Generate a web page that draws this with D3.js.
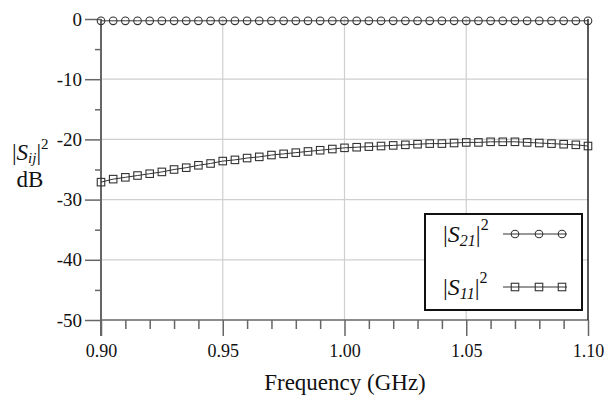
<!DOCTYPE html>
<html>
<head>
<meta charset="utf-8">
<script src="https://cdn.jsdelivr.net/npm/d3@7"></script>
<style>
  html, body { margin: 0; padding: 0; background: #fff; }
</style>
</head>
<body>
<svg id="chart" width="604" height="398"></svg>
<script>
// Frequency sweep (GHz)
const freqGHz = [0.900,0.905,0.910,0.915,0.920,0.925,0.930,0.935,0.940,0.945,
                 0.950,0.955,0.960,0.965,0.970,0.975,0.980,0.985,0.990,0.995,
                 1.000,1.005,1.010,1.015,1.020,1.025,1.030,1.035,1.040,1.045,
                 1.050,1.055,1.060,1.065,1.070,1.075,1.080,1.085,1.090,1.095,1.100];
// |S21|^2 in dB (transmission)
const s21dB = [-0.30,-0.30,-0.30,-0.30,-0.30,-0.30,-0.30,-0.30,-0.30,-0.30,
               -0.30,-0.30,-0.30,-0.30,-0.30,-0.30,-0.30,-0.30,-0.30,-0.30,
               -0.30,-0.30,-0.30,-0.30,-0.30,-0.30,-0.30,-0.30,-0.30,-0.30,
               -0.30,-0.30,-0.30,-0.30,-0.30,-0.30,-0.30,-0.30,-0.30,-0.30,-0.30];
// |S11|^2 in dB (reflection)
const s11dB = [-27.1,-26.6,-26.3,-26.0,-25.7,-25.4,-25.0,-24.7,-24.3,-24.0,
               -23.6,-23.4,-23.1,-22.9,-22.6,-22.4,-22.2,-22.0,-21.8,-21.6,
               -21.4,-21.3,-21.2,-21.1,-21.0,-20.9,-20.8,-20.7,-20.7,-20.6,
               -20.5,-20.5,-20.4,-20.4,-20.4,-20.5,-20.6,-20.7,-20.8,-20.9,-21.1];
// Axis ticks
const xMajorTicks = [0.90, 0.95, 1.00, 1.05, 1.10];
const xTickLabels = ["0.90", "0.95", "1.00", "1.05", "1.10"];
const yMajorTicks = [0, -10, -20, -30, -40, -50];
const yTickLabels = ["0", "-10", "-20", "-30", "-40", "-50"];

const FONT = '"Liberation Serif"';
const svg = d3.select("#chart");
const x = d3.scaleLinear().domain([0.90, 1.10]).range([101, 588]);
const y = d3.scaleLinear().domain([-50, 0]).range([320, 19]);
const axisCol = "#666";
const gridCol = "#cfcfcf";
const ink = "#333";

// Grid
const grid = svg.append("g");
grid.selectAll("line.h").data(yMajorTicks.filter(v => v > -50 && v < 0)).join("line")
  .attr("x1", x(0.90)).attr("x2", x(1.10))
  .attr("y1", d => y(d)).attr("y2", d => y(d))
  .attr("stroke", gridCol).attr("stroke-width", 1.2);
grid.selectAll("line.v").data(xMajorTicks.filter(v => v > 0.9 && v < 1.1)).join("line")
  .attr("x1", d => x(d)).attr("x2", d => x(d))
  .attr("y1", y(0)).attr("y2", y(-50))
  .attr("stroke", gridCol).attr("stroke-width", 1.2);

// Minor ticks every 0.01 GHz and every 5 dB
const xMinor = d3.range(0, 21).map(i => 0.90 + i * 0.01).filter((v, i) => i % 5 !== 0);
const yMinor = [-5, -15, -25, -35, -45];

const xAxisMinor = d3.axisBottom(x).tickValues(xMinor).tickSize(9).tickFormat("");
const xAxisMajor = d3.axisBottom(x).tickValues(xMajorTicks).tickSize(16).tickPadding(8)
  .tickFormat((d, i) => xTickLabels[i]);
const yAxisMinor = d3.axisLeft(y).tickValues(yMinor).tickSize(6).tickFormat("");
const yAxisMajor = d3.axisLeft(y).tickValues(yMajorTicks).tickSize(16).tickPadding(3)
  .tickFormat((d, i) => yTickLabels[i]);

function styleAxis(g, size) {
  g.select(".domain").remove();
  g.selectAll(".tick line").attr("stroke", axisCol).attr("stroke-width", 1.5);
  g.selectAll(".tick text").attr("fill", "#111")
    .style("font-family", FONT).style("font-size", size + "px");
}
svg.append("g").attr("transform", `translate(0,${y(-50)})`).call(xAxisMinor).call(styleAxis, 18);
svg.append("g").attr("transform", `translate(0,${y(-50)})`).call(xAxisMajor).call(styleAxis, 18);
svg.append("g").attr("transform", `translate(${x(0.90)},0)`).call(yAxisMinor).call(styleAxis, 19);
svg.append("g").attr("transform", `translate(${x(0.90)},0)`).call(yAxisMajor).call(styleAxis, 19);

// Axis lines
svg.append("line").attr("x1", x(0.90)).attr("x2", x(1.10)).attr("y1", y(-50)).attr("y2", y(-50))
  .attr("stroke", axisCol).attr("stroke-width", 1.5);
svg.append("line").attr("x1", x(0.90)).attr("x2", x(0.90)).attr("y1", y(0)).attr("y2", y(-50) + 16)
  .attr("stroke", axisCol).attr("stroke-width", 2);
svg.append("line").attr("x1", x(1.10)).attr("x2", x(1.10)).attr("y1", y(0)).attr("y2", y(-50))
  .attr("stroke", "#222").attr("stroke-width", 1.5);

// Series
const line = d3.line().x((d, i) => x(freqGHz[i])).y(d => y(d));
svg.append("path").datum(s21dB).attr("d", line).attr("fill", "none").attr("stroke", ink).attr("stroke-width", 1);
svg.append("path").datum(s11dB).attr("d", line).attr("fill", "none").attr("stroke", ink).attr("stroke-width", 1);

svg.append("g").selectAll("circle").data(s21dB).join("circle")
  .attr("cx", (d, i) => x(freqGHz[i])).attr("cy", d => y(d)).attr("r", 3.8)
  .attr("fill", "none").attr("stroke", ink).attr("stroke-width", 1.1);
const sq = 7.5;
svg.append("g").selectAll("rect").data(s11dB).join("rect")
  .attr("x", (d, i) => x(freqGHz[i]) - sq / 2).attr("y", d => y(d) - sq / 2)
  .attr("width", sq).attr("height", sq)
  .attr("fill", "none").attr("stroke", ink).attr("stroke-width", 1.1);

// Helper for serif text
function stext(parent, xp, yp, size) {
  return parent.append("text").attr("x", xp).attr("y", yp).attr("fill", "#111")
    .style("font-family", FONT).style("font-size", size + "px");
}

// Axis titles
stext(svg, 345, 390, 23).attr("text-anchor", "middle").text("Frequency (GHz)");

const yl = stext(svg, 12, 160, 23);
yl.append("tspan").text("|");
yl.append("tspan").style("font-style", "italic").text("S");
yl.append("tspan").style("font-style", "italic").style("font-size", "15px").attr("dy", 3).text("ij");
yl.append("tspan").attr("dy", -3).text("|");
yl.append("tspan").style("font-size", "15px").attr("dy", -11).text("2");
stext(svg, 30, 187, 23).attr("text-anchor", "middle").text("dB");

// Legend
const lg = svg.append("g");
lg.append("rect").attr("x", 425).attr("y", 214).attr("width", 157).attr("height", 96)
  .attr("fill", "#fff").attr("stroke", "#111").attr("stroke-width", 2);

function legendLabel(yb, sub) {
  const t = stext(lg, 443, yb, 24);
  t.append("tspan").text("|");
  t.append("tspan").style("font-style", "italic").text("S");
  t.append("tspan").style("font-style", "italic").style("font-size", "16px").attr("dy", 4).text(sub);
  t.append("tspan").attr("dy", -4).text("|");
  t.append("tspan").style("font-size", "16px").attr("dy", -12).text("2");
}
legendLabel(242, "21");
legendLabel(295, "11");

const legMarks = [515, 539, 562];
lg.append("line").attr("x1", 503).attr("x2", 567).attr("y1", 234).attr("y2", 234).attr("stroke", ink);
lg.selectAll("circle").data(legMarks).join("circle")
  .attr("cx", d => d).attr("cy", 234).attr("r", 3.8)
  .attr("fill", "none").attr("stroke", ink).attr("stroke-width", 1.1);
lg.append("line").attr("x1", 503).attr("x2", 567).attr("y1", 287).attr("y2", 287).attr("stroke", ink);
lg.selectAll("rect.m").data(legMarks).join("rect")
  .attr("x", d => d - sq / 2).attr("y", 287 - sq / 2).attr("width", sq).attr("height", sq)
  .attr("fill", "none").attr("stroke", ink).attr("stroke-width", 1.1);
</script>
</body>
</html>
